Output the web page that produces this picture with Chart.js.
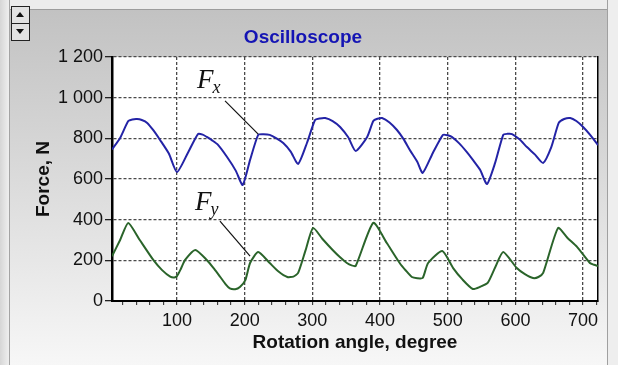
<!DOCTYPE html>
<html>
<head>
<meta charset="utf-8">
<script src="https://cdn.jsdelivr.net/npm/chart.js@4.4.1/dist/chart.umd.min.js"></script>
<style>
  html, body { margin: 0; padding: 0; }
  body {
    width: 618px; height: 365px; position: relative; overflow: hidden;
    background: #ececec; font-family: "Liberation Sans", Arial, sans-serif;
  }
  #side { position: absolute; left: 0; top: 0; width: 9px; height: 365px;
    background: linear-gradient(to right, #d6d6d6, #efefef); border-right: 1px solid #a4a4a4; }
  #panel { position: absolute; left: 10px; top: 9px; width: 597px; height: 356px;
    background: linear-gradient(to bottom, #c2c2c2 0%, #d4d4d4 35%, #f7f7f7 100%);
    border-top: 1px solid #9c9c9c; }
  #rail { position: absolute; left: 607px; top: 0; width: 11px; height: 365px;
    background: #eeeeee; border-left: 1px solid #a0a0a0; }
  #spin { position: absolute; left: 11px; top: 6px; width: 17px; height: 33px;
    border: 1px solid #222; background: #e2e2e2; }
  #spin div { height: 16px; position: relative; }
  #spin div + div { border-top: 1px solid #222; }
  #spin .up::after, #spin .down::after { content: ""; position: absolute; left: 4px; width: 0; height: 0;
    border-left: 4px solid transparent; border-right: 4px solid transparent; }
  #spin .up::after { top: 5px; border-bottom: 5px solid #111; }
  #spin .down::after { top: 5px; border-top: 5px solid #111; }
  #chart { position: absolute; left: 8px; top: 0; }
</style>
</head>
<body>
<div id="side"></div>
<div id="panel"></div>
<div id="rail"></div>
<div id="spin"><div class="up"></div><div class="down"></div></div>
<canvas id="chart" width="610" height="365" style="width:610px;height:365px"></canvas>
<script>
// Fx (blue) and Fy (green), angle in degrees, force in N
const fxAngles = [4, 16, 28, 34, 41, 48, 56, 65, 75, 88, 100,
  116, 131, 138, 144, 152, 160, 174, 187, 197,
  208, 220, 228, 237, 247, 257, 268, 279,
  292, 304, 311, 319, 330, 341, 353, 364,
  381, 390, 396, 403, 414, 425, 435, 444, 455, 463,
  478, 493, 500, 506, 517, 528, 538, 548, 558,
  570, 582, 588, 595, 606, 617, 629, 641,
  653, 664, 672, 681, 690, 700, 711, 722]
const fxForce = [745, 802, 885, 893, 895, 890, 876, 840, 792, 725, 634,
  728, 821, 818, 807, 790, 770, 708, 640, 571,
  694, 817, 820, 817, 800, 777, 735, 674,
  777, 890, 898, 900, 885, 856, 805, 738,
  807, 885, 896, 900, 878, 841, 795, 743, 685, 630,
  728, 817, 815, 807, 775, 733, 690, 644, 575,
  679, 817, 822, 821, 795, 757, 720, 679,
  757, 876, 895, 900, 885, 856, 815, 767]

const fyAngles = [4, 16, 28, 45, 65, 78, 90, 96, 100, 106, 112, 127,
  144, 155, 164, 172, 178, 186, 193, 201, 208, 220,
  237, 250, 263, 272, 279, 290, 301,
  315, 330, 341, 351, 358, 364, 390,
  410, 429, 438, 447, 455, 463, 471, 492,
  508, 522, 537, 548, 559, 570, 582,
  602, 614, 626, 634, 641, 663,
  677, 691, 710, 716, 722]
const fyForce = [220, 300, 384, 300, 202, 152, 120, 116, 122, 160, 202, 251,
  202, 158, 118, 82, 62, 58, 69, 103, 187, 241,
  187, 145, 118, 120, 138, 250, 359,
  305, 251, 215, 187, 175, 172, 384,
  285, 187, 150, 118, 112, 113, 187, 246,
  162, 105, 59, 70, 89, 165, 241,
  162, 132, 113, 118, 138, 359,
  310, 266, 187, 178, 172]

const xTicks = [100, 200, 300, 400, 500, 600, 700]
const yTicks = [0, 200, 400, 600, 800, 1000, 1200]
const xMinor = []
for (let a = 20; a <= 720; a += 20) xMinor.push(a)

const toPoints = (xs, ys) => xs.map((x, i) => ({ x, y: ys[i] }))

Chart.defaults.font.family = '"Liberation Sans", Arial, sans-serif'

// white plot area over the grey panel
const plotBg = {
  id: "plotBg",
  beforeDraw(chart) {
    const { ctx, chartArea: a } = chart
    ctx.save()
    ctx.fillStyle = "#ffffff"
    ctx.fillRect(a.left, a.top, a.right - a.left, a.bottom - a.top)
    ctx.restore()
  }
}

// the F_x / F_y labels with their leader lines, placed in data units
const callouts = {
  id: "callouts",
  afterDatasetsDraw(chart, args, opts) {
    const { ctx, scales: { x, y } } = chart
    ctx.save()
    opts.items.forEach(it => {
      ctx.strokeStyle = "#111"
      ctx.lineWidth = 1.2
      ctx.beginPath()
      ctx.moveTo(x.getPixelForValue(it.from[0]), y.getPixelForValue(it.from[1]))
      ctx.lineTo(x.getPixelForValue(it.to[0]), y.getPixelForValue(it.to[1]))
      ctx.stroke()

      const px = x.getPixelForValue(it.at[0])
      const py = y.getPixelForValue(it.at[1])
      ctx.fillStyle = "#111"
      ctx.textAlign = "left"
      ctx.textBaseline = "alphabetic"
      ctx.font = 'italic 27px "Liberation Serif", "Times New Roman", serif'
      ctx.fillText(it.main, px, py)
      const w = ctx.measureText(it.main).width
      ctx.font = 'italic 18px "Liberation Serif", "Times New Roman", serif'
      ctx.fillText(it.sub, px + w - 1, py + 5)
    })
    ctx.restore()
  }
}

const gridColor = "#4a4a4a"

new Chart(document.getElementById("chart"), {
  type: "line",
  data: {
    datasets: [
      {
        label: "Fx",
        data: toPoints(fxAngles, fxForce),
        borderColor: "#2323a6",
        borderWidth: 2,
        pointRadius: 0,
        tension: 0.2
      },
      {
        label: "Fy",
        data: toPoints(fyAngles, fyForce),
        borderColor: "#2a642a",
        borderWidth: 2,
        pointRadius: 0,
        tension: 0.2
      }
    ]
  },
  options: {
    responsive: false,
    animation: false,
    layout: { padding: { left: 0, right: 20, top: 0, bottom: 0 } },
    plugins: {
      legend: { display: false },
      tooltip: { enabled: false },
      title: {
        display: true,
        text: "Oscilloscope",
        color: "#1414b4",
        font: { size: 19, weight: "bold" },
        padding: { top: 26.6, bottom: 7.6 }
      },
      callouts: {
        items: [
          { main: "F", sub: "x", at: [129.6, 1048], from: [171, 984], to: [220, 821] },
          { main: "F", sub: "y", at: [126.6, 448], from: [163.5, 393], to: [208, 221] }
        ]
      }
    },
    scales: {
      x: {
        type: "linear",
        min: 4,
        max: 722,
        afterBuildTicks: s => { s.ticks = xMinor.map(v => ({ value: v })) },
        afterFit: s => { s.height = 64 },
        ticks: {
          autoSkip: false,
          maxRotation: 0,
          padding: 5,
          color: "#111",
          font: { size: 18 },
          callback: v => (xTicks.includes(v) ? String(v) : "")
        },
        grid: {
          color: c => (c.tick && xTicks.includes(c.tick.value) ? gridColor : "rgba(0,0,0,0)"),
          lineWidth: 1.3,
          tickColor: "#222",
          tickLength: 4,
          tickWidth: 1
        },
        border: { color: "#000", width: 2, dash: [3, 2] },
        title: {
          display: true,
          text: "Rotation angle, degree",
          color: "#111",
          font: { size: 19, weight: "bold" },
          padding: { top: 0, bottom: 10.6 }
        }
      },
      y: {
        min: 0,
        max: 1200,
        afterBuildTicks: s => { s.ticks = yTicks.map(v => ({ value: v })) },
        afterFit: s => { s.width = 104 },
        ticks: {
          padding: 2,
          color: "#111",
          font: { size: 18 },
          callback: v => String(v).replace(/\B(?=(\d{3})+$)/, " ")
        },
        grid: { color: gridColor, lineWidth: 1.3, tickColor: "#222", tickLength: 7 },
        border: { color: "#000", width: 2.5, dash: [3, 2] },
        title: {
          display: true,
          text: "Force, N",
          color: "#111",
          font: { size: 19, weight: "bold" },
          padding: { top: 24, bottom: 0 }
        }
      },
      y2: {
        position: "right",
        min: 0,
        max: 1200,
        afterFit: s => { s.width = 0 },
        ticks: { display: false },
        grid: { display: false, drawOnChartArea: false, drawTicks: false },
        border: { display: true, color: "#000", width: 1.5 }
      }
    }
  },
  plugins: [plotBg, callouts]
})
</script>
</body>
</html>
